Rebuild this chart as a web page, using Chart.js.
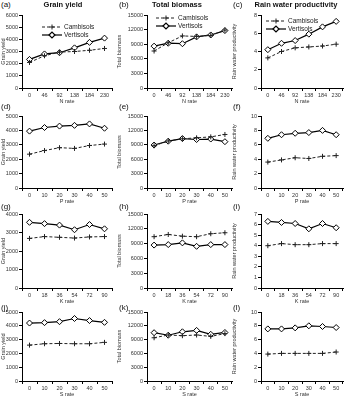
<!DOCTYPE html>
<html>
<head>
<meta charset="utf-8">
<script src="https://cdn.jsdelivr.net/npm/chart.js@4.4.1/dist/chart.umd.min.js"></script>
<style>
  body { margin: 0; background: #fff; width: 350px; height: 398px; position: relative; overflow: hidden;
         font-family: "Liberation Sans", Arial, sans-serif; }
  canvas { position: absolute; }
  .lbl { position: absolute; font-size: 8px; color: #111; line-height: 10px; }
  .ttl { position: absolute; font-size: 7.5px; font-weight: bold; color: #111; line-height: 10px;
         transform: translateX(-50%); white-space: nowrap; }
</style>
</head>
<body>
<script>
// --- DATOS ---
const nRate = ['0', '46', '92', '138', '184', '230'];
const pRate = ['0', '10', '20', '30', '40', '50'];
const kRate = ['0', '18', '36', '54', '72', '90'];
const sRate = ['0', '10', '20', '30', '40', '50'];

// rendimiento de grano
const gyNCamb = [2100, 2650, 2950, 3000, 3100, 3250];
const gyNVert = [2350, 2800, 2900, 3300, 3750, 4100];
const gyPCamb = [2350, 2600, 2800, 2750, 2950, 3050];
const gyPVert = [3950, 4200, 4300, 4350, 4450, 4150];
const gyKCamb = [2680, 2780, 2740, 2700, 2760, 2780];
const gyKVert = [3550, 3480, 3400, 3150, 3430, 3200];
const gySCamb = [2600, 2700, 2720, 2700, 2700, 2800];
const gySVert = [4200, 4230, 4300, 4530, 4380, 4250];

// biomasa total
const tbNCamb = [7600, 9300, 10700, 10600, 10800, 11900];
const tbNVert = [8600, 9200, 9100, 10500, 10900, 11800];
const tbPCamb = [8800, 9800, 10250, 10450, 10650, 11150];
const tbPVert = [8950, 9750, 10300, 10100, 10200, 9650];
const tbKCamb = [10400, 10850, 10500, 10400, 11000, 11200];
const tbKVert = [8700, 8800, 9150, 8450, 8800, 8800];
const tbSCamb = [9400, 10000, 9850, 10000, 9700, 10300];
const tbSVert = [10500, 9950, 10700, 11000, 10150, 10550];

// productividad del agua de lluvia
const rwNCamb = [3.3, 4.0, 4.4, 4.5, 4.6, 4.8];
const rwNVert = [4.2, 4.9, 5.2, 5.9, 6.7, 7.3];
const rwPCamb = [3.6, 3.9, 4.2, 4.1, 4.4, 4.5];
const rwPVert = [6.9, 7.4, 7.6, 7.7, 8.0, 7.4];
const rwKCamb = [4.0, 4.2, 4.1, 4.1, 4.2, 4.2];
const rwKVert = [6.3, 6.2, 6.1, 5.6, 6.1, 5.7];
const rwSCamb = [3.9, 4.0, 4.0, 4.0, 4.0, 4.2];
const rwSVert = [7.55, 7.55, 7.7, 8.0, 7.9, 7.75];

const FONT = '"Liberation Sans", Arial, sans-serif';

// --- GEOMETRIA ---
const cols = [
  { canvasLeft: 0, x0: 22, x1: 112 },
  { canvasLeft: 116, x0: 147, x1: 232 },
  { canvasLeft: 231, x0: 261, x1: 343 }
];
const rows = [
  { y0: 15, y1: 88 },
  { y0: 116, y1: 188 },
  { y0: 214, y1: 288 },
  { y0: 312, y1: 381 }
];
const PAD_TOP = 5, PAD_RIGHT = 5, X_AXIS_H = 17;

const panels = [
  { tag: '(a)', col: 0, row: 0, labels: nRate, camb: gyNCamb, vert: gyNVert, max: 6000, step: 1000, yt: 'Grain yield', xt: 'N rate', legend: { show: true, dx: 20, dy: 12 } },
  { tag: '(b)', col: 1, row: 0, labels: nRate, camb: tbNCamb, vert: tbNVert, max: 15000, step: 3000, yt: 'Total biomass', xt: 'N rate', legend: { show: true, dx: 9, dy: 3 } },
  { tag: '(c)', col: 2, row: 0, labels: nRate, camb: rwNCamb, vert: rwNVert, max: 8, step: 2, yt: 'Rain water productivity', xt: 'N rate', legend: { show: true, dx: 5, dy: 6 } },
  { tag: '(d)', col: 0, row: 1, labels: pRate, camb: gyPCamb, vert: gyPVert, max: 5000, step: 1000, yt: 'Grain yield', xt: 'P rate' },
  { tag: '(e)', col: 1, row: 1, labels: pRate, camb: tbPCamb, vert: tbPVert, max: 15000, step: 3000, yt: 'Total biomass', xt: 'P rate' },
  { tag: '(f)', col: 2, row: 1, labels: pRate, camb: rwPCamb, vert: rwPVert, max: 10, step: 2, yt: 'Rain water productivity', xt: 'P rate' },
  { tag: '(g)', col: 0, row: 2, labels: kRate, camb: gyKCamb, vert: gyKVert, max: 4000, step: 1000, yt: 'Grain yield', xt: 'K rate' },
  { tag: '(h)', col: 1, row: 2, labels: kRate, camb: tbKCamb, vert: tbKVert, max: 15000, step: 3000, yt: 'Total biomass', xt: 'K rate' },
  { tag: '(i)', col: 2, row: 2, labels: kRate, camb: rwKCamb, vert: rwKVert, max: 7, step: 1, yt: 'Rain water productivity', xt: 'K rate' },
  { tag: '(j)', col: 0, row: 3, labels: sRate, camb: gySCamb, vert: gySVert, max: 5000, step: 1000, yt: 'Grain yield', xt: 'S rate' },
  { tag: '(k)', col: 1, row: 3, labels: sRate, camb: tbSCamb, vert: tbSVert, max: 15000, step: 3000, yt: 'Total biomass', xt: 'S rate' },
  { tag: '(l)', col: 2, row: 3, labels: sRate, camb: rwSCamb, vert: rwSVert, max: 10, step: 2, yt: 'Rain water productivity', xt: 'S rate' }
];

// posiciones de las letras de cada panel
const tagLeft = [1, 119, 233];
const tagTop = [0, 102, 202, 303];

// titulos de columna
const colTitles = [
  { text: 'Grain yield', x: 63 },
  { text: 'Total biomass', x: 177 },
  { text: 'Rain water productivity', x: 296 }
];

// Leyenda dibujada dentro del área del gráfico
const insideLegend = {
  id: 'insideLegend',
  afterDatasetsDraw(chart, args, opts) {
    if (!opts || !opts.show) return;
    const ctx = chart.ctx, a = chart.chartArea;
    chart.data.datasets.forEach((ds, i) => {
      const x = a.left + opts.dx, y = a.top + opts.dy + i * 8;
      ctx.save();
      ctx.strokeStyle = ds.borderColor;
      ctx.lineWidth = ds.borderWidth;
      ctx.setLineDash(ds.borderDash || []);
      ctx.beginPath();
      ctx.moveTo(x, y);
      ctx.lineTo(x + 20, y);
      ctx.stroke();
      ctx.setLineDash([]);
      ctx.fillStyle = ds.pointBackgroundColor || '#fff';
      ctx.strokeStyle = ds.pointBorderColor;
      Chart.helpers.drawPoint(ctx, { pointStyle: ds.pointStyle, radius: ds.pointRadius, borderWidth: ds.pointBorderWidth, rotation: 0 }, x + 10, y);
      ctx.fillStyle = '#222';
      ctx.font = '6.5px ' + FONT;
      ctx.textBaseline = 'middle';
      ctx.fillText(ds.label, x + 22, y);
      ctx.restore();
    });
  }
};

function axisStyle() {
  return {
    grid: { drawOnChartArea: false, tickLength: 3, color: '#000', lineWidth: 1 },
    border: { color: '#000', width: 1 },
    ticks: { font: { size: 5.5, family: FONT }, color: '#333', padding: 1 }
  };
}

function createPanel(p) {
  const c = cols[p.col], r = rows[p.row];
  const yAxisW = c.x0 - c.canvasLeft;
  const w = c.x1 - c.canvasLeft + PAD_RIGHT;
  const h = (r.y1 - r.y0) + PAD_TOP + X_AXIS_H;

  const canvas = document.createElement('canvas');
  canvas.width = w;
  canvas.height = h;
  canvas.style.left = c.canvasLeft + 'px';
  canvas.style.top = (r.y0 - PAD_TOP) + 'px';
  canvas.style.width = w + 'px';
  canvas.style.height = h + 'px';
  document.body.appendChild(canvas);

  const xs = axisStyle(), ys = axisStyle();

  return new Chart(canvas.getContext('2d'), {
    type: 'line',
    data: {
      labels: p.labels,
      datasets: [{
        label: 'Cambisols',
        data: p.camb,
        borderColor: '#222',
        borderWidth: 1,
        borderDash: [3, 2],
        pointStyle: 'cross',
        pointRadius: 2.5,
        pointBorderColor: '#222',
        pointBorderWidth: 1,
        tension: 0
      }, {
        label: 'Vertisols',
        data: p.vert,
        borderColor: '#000',
        borderWidth: 1.2,
        pointStyle: 'rectRot',
        pointRadius: 3,
        pointBackgroundColor: '#fff',
        pointBorderColor: '#000',
        pointBorderWidth: 1,
        tension: 0
      }]
    },
    options: {
      responsive: false,
      animation: false,
      devicePixelRatio: 1,
      layout: { padding: { top: PAD_TOP, right: PAD_RIGHT, left: 0, bottom: 0 } },
      plugins: {
        legend: { display: false },
        tooltip: { enabled: false },
        insideLegend: p.legend || { show: false }
      },
      scales: {
        x: {
          type: 'category',
          offset: true,
          grid: Object.assign(xs.grid, { offset: true }),
          border: xs.border,
          ticks: Object.assign(xs.ticks, { maxRotation: 0, autoSkip: false }),
          title: { display: true, text: p.xt, font: { size: 5.5, family: FONT }, color: '#333', padding: 0 },
          afterFit(s) { s.height = X_AXIS_H; }
        },
        y: {
          min: 0,
          max: p.max,
          grid: ys.grid,
          border: ys.border,
          ticks: Object.assign(ys.ticks, { stepSize: p.step, callback: v => String(v) }),
          title: { display: true, text: p.yt, font: { size: 5.5, family: FONT }, color: '#333', padding: 0 },
          afterFit(s) { s.width = yAxisW; }
        }
      }
    },
    plugins: [insideLegend]
  });
}

panels.forEach(p => {
  createPanel(p);
  const tag = document.createElement('div');
  tag.className = 'lbl';
  tag.textContent = p.tag;
  tag.style.left = tagLeft[p.col] + 'px';
  tag.style.top = tagTop[p.row] + 'px';
  document.body.appendChild(tag);
});

colTitles.forEach(t => {
  const d = document.createElement('div');
  d.className = 'ttl';
  d.textContent = t.text;
  d.style.left = t.x + 'px';
  d.style.top = '0px';
  document.body.appendChild(d);
});
</script>
</body>
</html>
